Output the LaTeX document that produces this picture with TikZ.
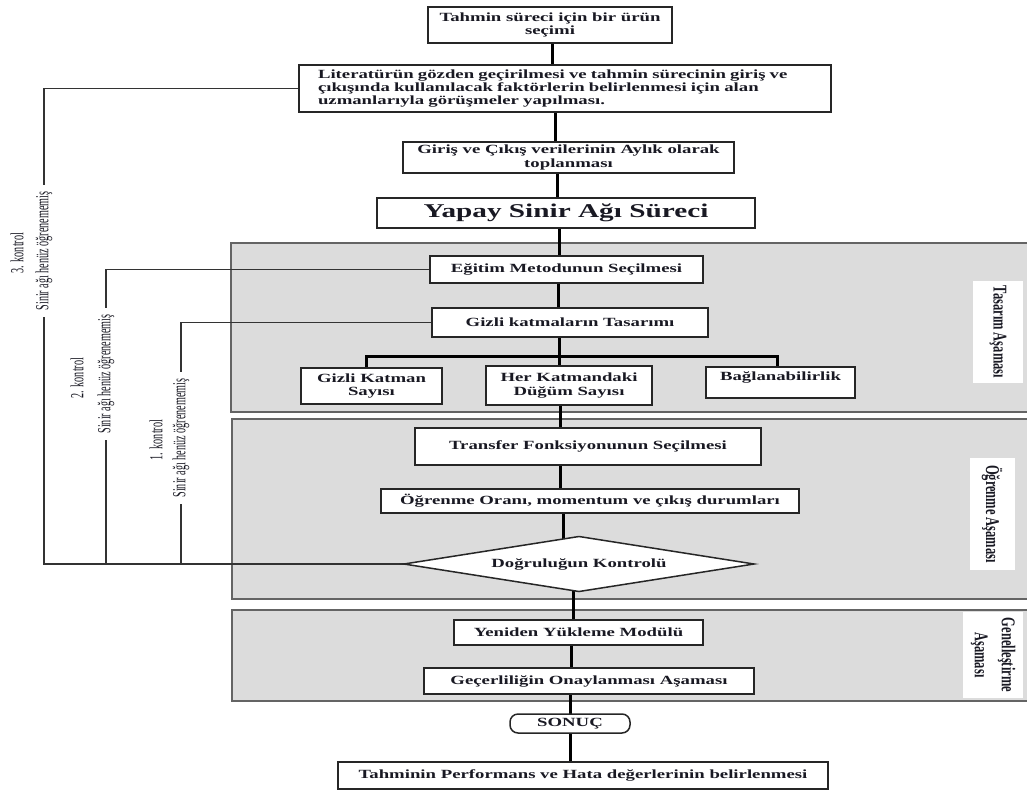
\documentclass[tikz,border=0pt]{standalone}
\usepackage{fontspec}
\setmainfont{Liberation Serif}
\newfontfamily\boxfont{Liberation Serif}[FakeStretch=1.5]
\newfontfamily\sidefont{Liberation Serif}[FakeStretch=0.55]
\newfontfamily\phasefont{Liberation Serif}[FakeStretch=0.64]
\usetikzlibrary{shapes.geometric}
\pgfdeclarelayer{panels}
\pgfdeclarelayer{lines}
\pgfsetlayers{panels,lines,main}
\definecolor{panelgray}{RGB}{220,220,220}
\definecolor{panelline}{RGB}{100,100,100}
\definecolor{inkc}{RGB}{25,25,35}
\begin{document}
\begin{tikzpicture}[x=1pt,y=-1pt,
  box/.style={draw=black!85, line width=1.5pt, fill=white, inner sep=0pt, outer sep=0pt, align=center,
    text=inkc, font={\boxfont\bfseries\fontsize{12.5}{13.3}\selectfont}},
  bigbox/.style={box, font={\boxfont\bfseries\fontsize{19.5}{22}\selectfont}},
  decision/.style={box, shape=diamond, aspect=6},
  spine/.style={line width=3pt, black},
  fb/.style={line width=1.3pt, black!80},
  side/.style={rotate=90, inner xsep=7pt, inner ysep=0pt, outer sep=0pt, text=inkc,
    font={\sidefont\fontsize{18.5}{20}\selectfont}},
  phase/.style={rotate=-90, fill=white, inner sep=0pt, align=center, text=inkc,
    font={\phasefont\bfseries\fontsize{19.5}{27}\selectfont}}
]
\useasboundingbox (0,0) rectangle (1027,790);

% panels
\begin{pgfonlayer}{panels}
\fill[panelgray] (231,243) rectangle (1027,412);
\draw[panelline, line width=1.5pt] (1027,243) -- (231,243) -- (231,412) -- (1027,412);
\fill[panelgray] (232,419) rectangle (1027,599);
\draw[panelline, line width=1.5pt] (1027,419) -- (232,419) -- (232,599) -- (1027,599);
\fill[panelgray] (232,610) rectangle (1027,701);
\draw[panelline, line width=1.5pt] (1027,610) -- (232,610) -- (232,701) -- (1027,701);
\end{pgfonlayer}

% boxes
\node[box, minimum width=244pt, minimum height=36pt] (top) at (550,25) {Tahmin süreci için bir ürün\\seçimi};
\node[box, minimum width=532pt, minimum height=47pt, text width=494pt, align=left] (lit) at (565,88.5)
  {Literatürün gözden geçirilmesi ve tahmin sürecinin giriş ve\\çıkışında kullanılacak faktörlerin belirlenmesi için alan\\uzmanlarıyla görüşmeler yapılması.};
\node[box, minimum width=331pt, minimum height=31pt] (giris) at (568.5,157.5) {Giriş ve Çıkış verilerinin Aylık olarak\\toplanması};
\node[bigbox, minimum width=378pt, minimum height=30pt] (yapay) at (566,213) {Yapay Sinir Ağı Süreci};
\node[box, minimum width=273pt, minimum height=27pt] (egitim) at (566.5,269.5) {Eğitim Metodunun Seçilmesi};
\node[box, minimum width=276pt, minimum height=29pt] (gizli) at (570,322.5) {Gizli katmaların Tasarımı};
\node[box, minimum width=141pt, minimum height=36pt] (gks) at (371.5,386) {Gizli Katman\\Sayısı};
\node[box, minimum width=166pt, minimum height=39pt] (hkd) at (569,385.5) {Her Katmandaki\\Düğüm Sayısı};
\node[box, minimum width=149pt, minimum height=31pt] (bag) at (780.5,382.5) {Bağlanabilirlik\\\mbox{}};
\node[box, minimum width=346pt, minimum height=37pt] (transfer) at (588,446.5) {Transfer Fonksiyonunun Seçilmesi};
\node[box, minimum width=418pt, minimum height=24pt] (oran) at (590,501) {Öğrenme Oranı, momentum ve çıkış durumları};
\node[decision, minimum width=350pt, minimum height=55pt] (d) at (579,564) {Doğruluğun Kontrolü};
\node[box, minimum width=249pt, minimum height=25pt] (yeniden) at (578.5,632.5) {Yeniden Yükleme Modülü};
\node[box, minimum width=330pt, minimum height=26pt] (gecer) at (589,681) {Geçerliliğin Onaylanması Aşaması};
\node[box, rounded corners=8pt, minimum width=120pt, minimum height=19pt] (sonuc) at (570,723.5) {SONUÇ};
\node[box, minimum width=490pt, minimum height=27pt] (final) at (583,775.5) {Tahminin Performans ve Hata değerlerinin belirlenmesi};

% phase labels
\node[phase, minimum width=102pt, minimum height=50pt] (ptas) at (998,332) {Tasarım Aşaması};
\node[phase, minimum width=112pt, minimum height=45pt] (pogr) at (992,514) {Öğrenme Aşaması};
\node[phase, minimum width=86pt, minimum height=60pt] (pgen) at (993,655) {Genelleştirme\\Aşaması};

% feedback labels
\node[side] (k3) at (17,253) {3. kontrol};
\node[side] (s3) at (44,251) {Sinir ağı henüz öğrenememiş};
\node[side] (k2) at (77,378) {2. kontrol};
\node[side] (s2) at (106,374) {Sinir ağı henüz öğrenememiş};
\node[side] (k1) at (156,440) {1. kontrol};
\node[side] (s1) at (181,438) {Sinir ağı henüz öğrenememiş};

% spine x positions
\coordinate (xA) at (552,0);
\coordinate (xB) at (555,0);
\coordinate (xC) at (557,0);
\coordinate (xD) at (559,0);
\coordinate (xE) at (558,0);
\coordinate (xF) at (560,0);
\coordinate (xG) at (563,0);
\coordinate (xH) at (573,0);
\coordinate (xI) at (571,0);
\coordinate (xJ) at (570,0);
\coordinate (b1) at (366,356);
\coordinate (b3) at (777,356);

\begin{pgfonlayer}{lines}
\draw[spine] (top.center -| xA) -- (lit.center -| xA);
\draw[spine] (lit.center -| xB) -- (giris.center -| xB);
\draw[spine] (giris.center -| xC) -- (yapay.center -| xC);
\draw[spine] (yapay.center -| xD) -- (egitim.center -| xD);
\draw[spine] (egitim.center -| xE) -- (gizli.center -| xE);
\draw[spine] (gizli.center -| xD) -- (hkd.center -| xD);
\draw[spine] (b1 |- gks.center) -- (b1) -- (b3) -- (b3 |- bag.center);
\draw[spine] (hkd.center -| xF) -- (transfer.center -| xF);
\draw[spine] (transfer.center -| xF) -- (oran.center -| xF);
\draw[spine] (oran.center -| xG) -- (d.center -| xG);
\draw[spine] (d.center -| xH) -- (yeniden.center -| xH);
\draw[spine] (yeniden.center -| xI) -- (gecer.center -| xI);
\draw[spine] (gecer.center -| xJ) -- (sonuc.center -| xJ);
\draw[spine] (sonuc.center -| xJ) -- (final.center -| xJ);
% feedback loops
\draw[fb] (lit.west) -| (s3.east);
\draw[fb] (s3.west) |- (d.west);
\draw[fb] (egitim.west) -| (s2.east);
\draw[fb] (s2.west) -- (s2.west |- d.west);
\draw[fb] (gizli.west) -| (s1.east);
\draw[fb] (s1.west) -- (s1.west |- d.west);
\end{pgfonlayer}
\end{tikzpicture}
\end{document}
